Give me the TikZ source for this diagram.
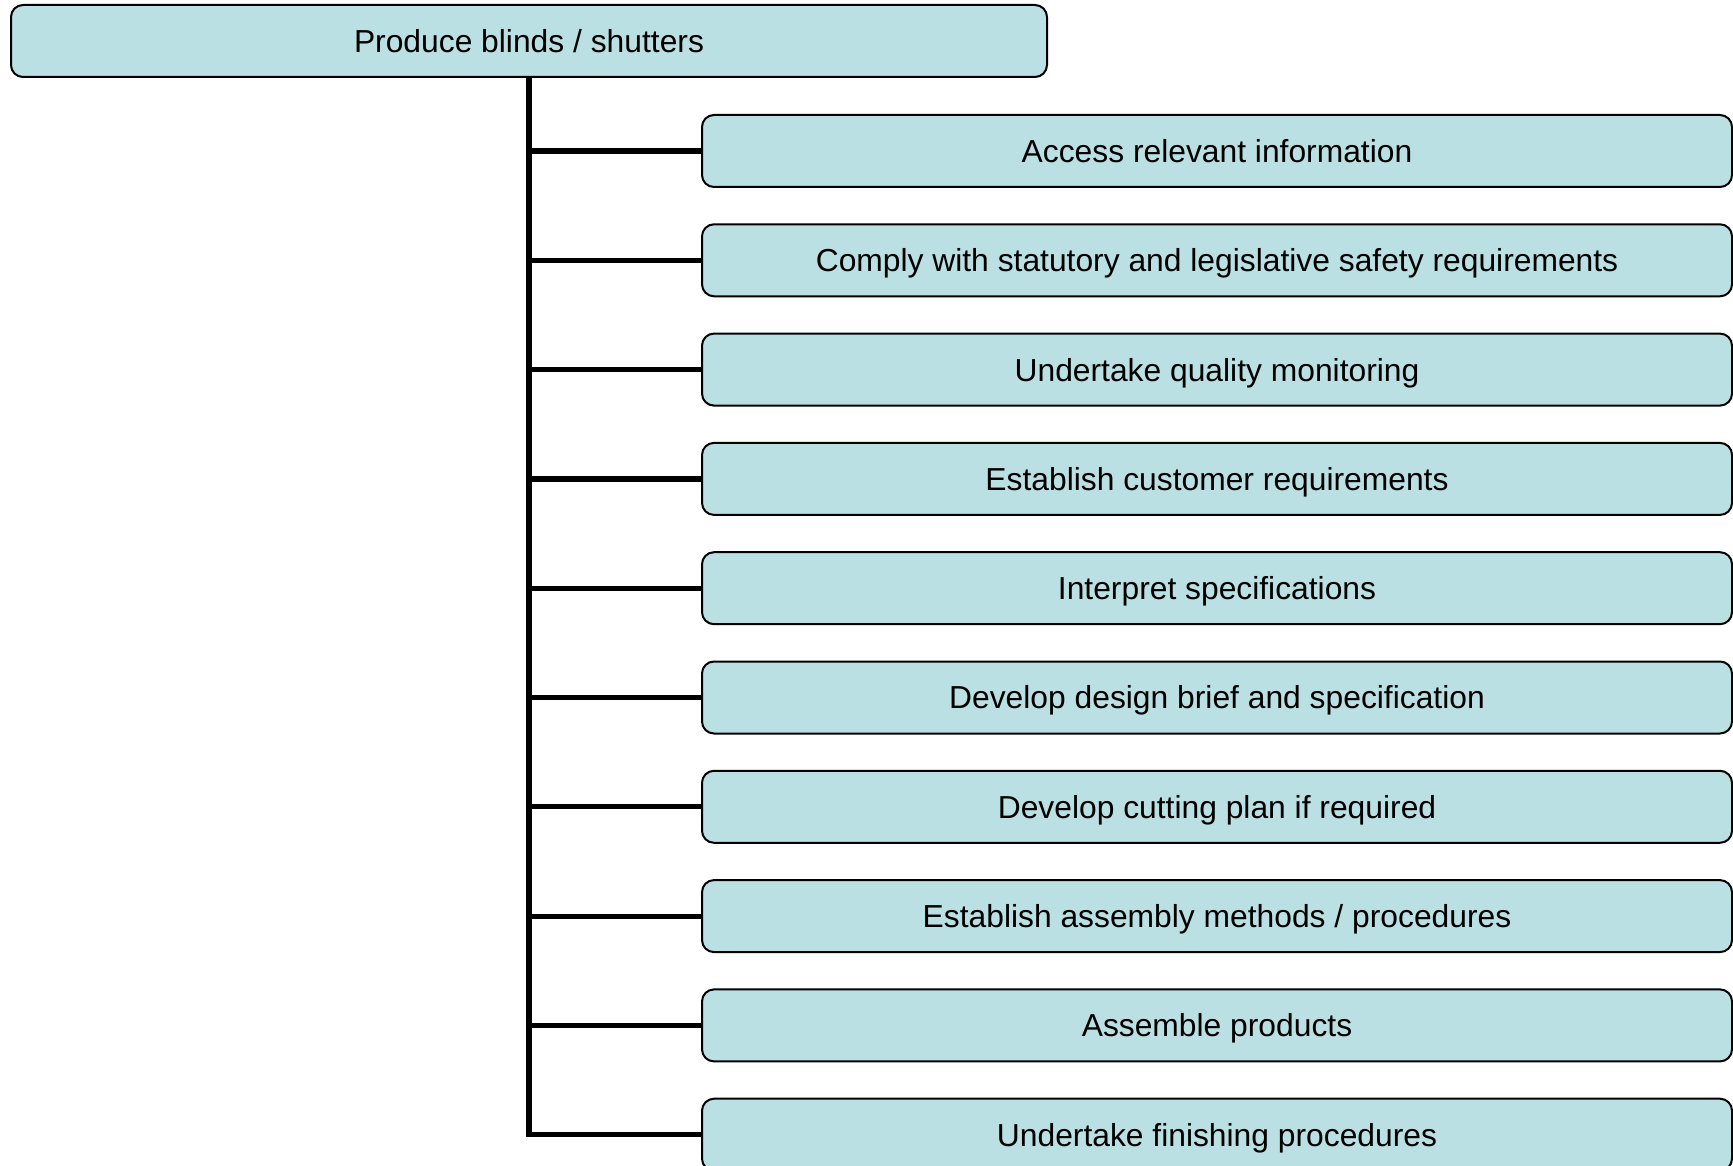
\documentclass[tikz,border=0pt]{standalone}
\usepackage{fontspec}
\setmainfont{Liberation Sans}
\definecolor{boxfill}{RGB}{186,224,227}
\tikzset{
  taskbox/.style={draw=black, line width=1pt, fill=boxfill, rounded corners=6pt,
    minimum height=36pt, inner sep=0pt, text height=11.4pt, text depth=0pt,
    font=\fontsize{15.9}{18}\selectfont},
  trunk/.style={line width=2.6pt}
}
\begin{document}
\begin{tikzpicture}[x=0.5pt, y=-0.5pt]
    \useasboundingbox (0,0) rectangle (1733,1166);
    \node[taskbox, minimum width=518pt](top) at (529,41){Produce blinds / shutters};
\foreach \txt [count=\i from 0] in {Access relevant information,
    Comply with statutory and legislative safety requirements,
    Undertake quality monitoring, Establish customer requirements,
    Interpret specifications, Develop design brief and specification,
    Develop cutting plan if required, Establish assembly methods / procedures,
    Assemble products, Undertake finishing procedures}
{
    \node[taskbox, minimum width=515pt](task\i) at (1217,151+109.3*\i){\txt};
    \draw[trunk](top.south)|-(task\i.west);
}
\end{tikzpicture}
\end{document}
